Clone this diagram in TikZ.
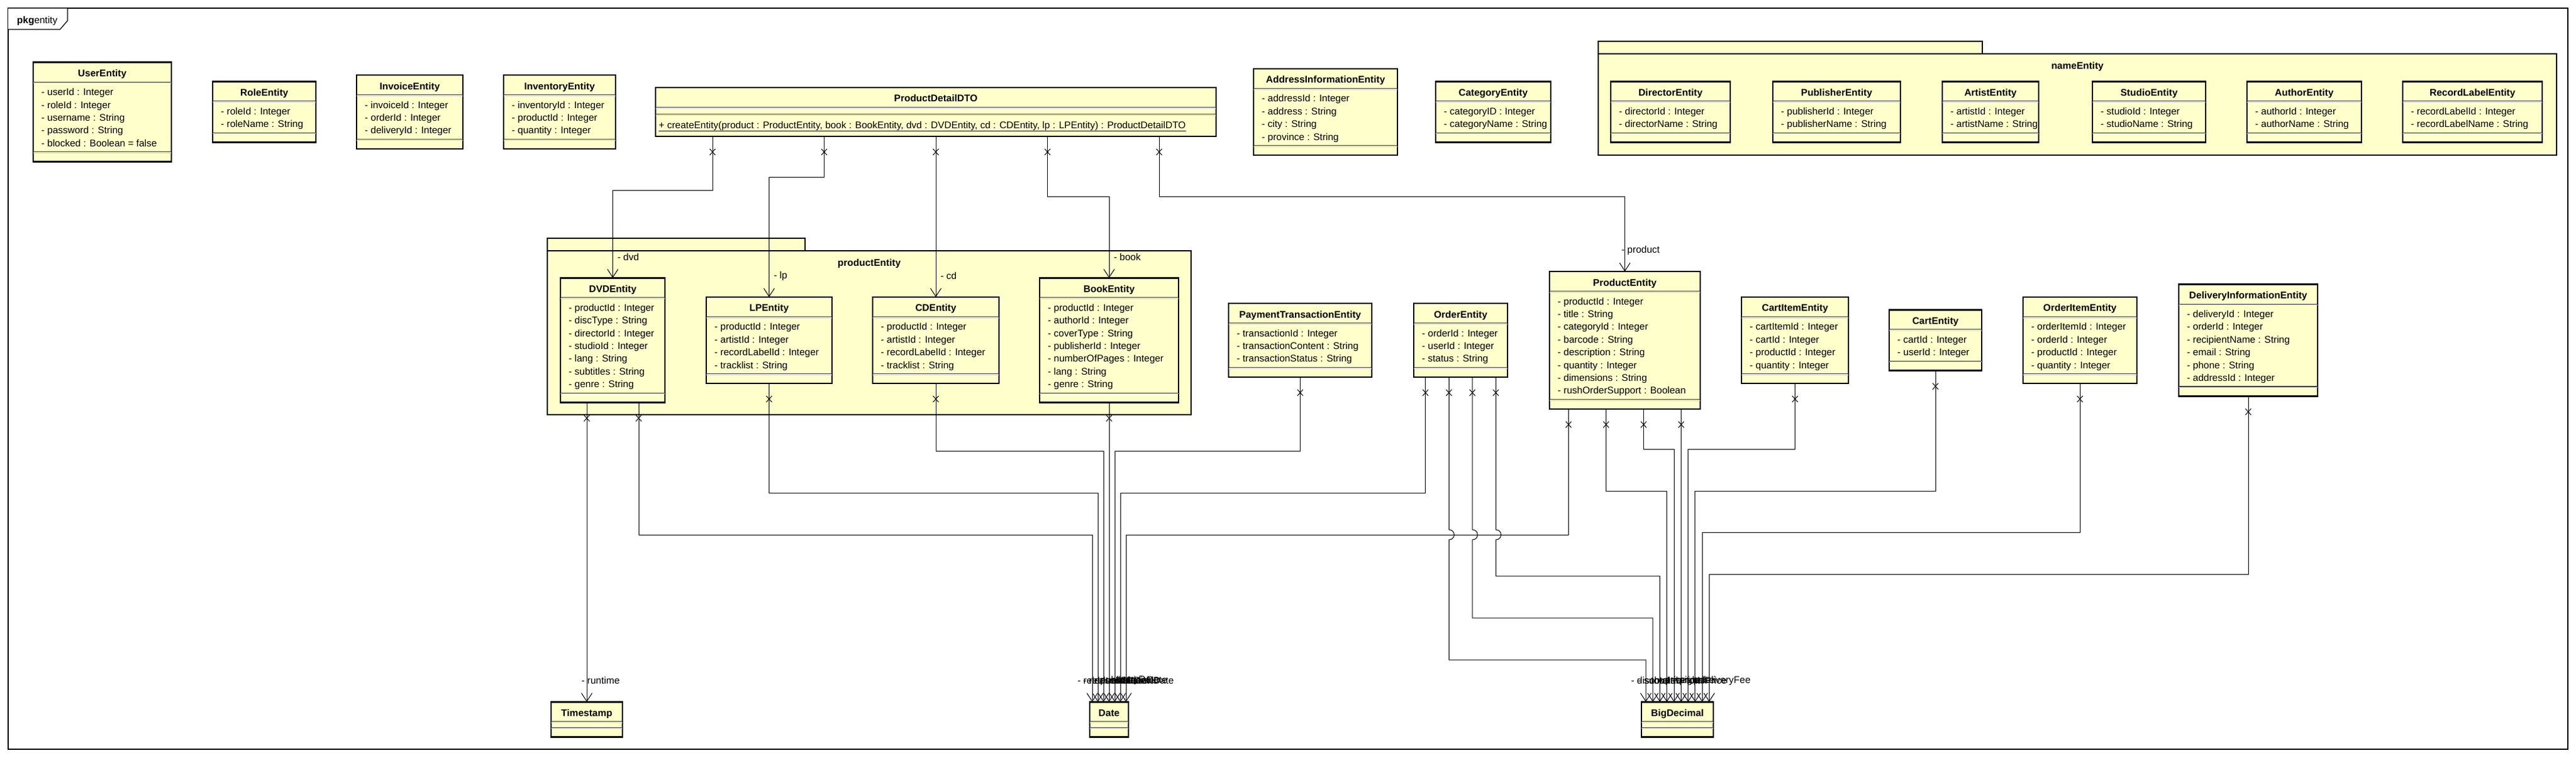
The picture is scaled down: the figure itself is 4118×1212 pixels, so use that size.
\documentclass[tikz,border=0pt]{standalone}
\usepackage{fontspec}
\setmainfont{Liberation Sans}
\usetikzlibrary{arrows.meta,calc,decorations.markings}

\definecolor{clsfill}{RGB}{255,255,204}
\newcommand{\clsfont}{\fontsize{15.5pt}{20.4pt}\selectfont}

% class box: name, left x, centre y, width, number of attributes, title, attributes
\newcommand{\umlclass}[7]{%
  \pgfmathsetmacro{\clsh}{56.5+20.4*#5}%
  \node[clsbox, minimum width=#4pt, minimum height=\clsh pt, anchor=west] (#1) at (#2,#3) {};
  \node[clstitle, anchor=base] (#1-t) at ([yshift=-23pt]#1.north) {#6};
  \draw[clssep] ([yshift=-31.5pt]#1.north west) -- ([yshift=-31.5pt]#1.north east);
  \draw[clsshade] ([yshift=-33.2pt]#1.north west) -- ([yshift=-33.2pt]#1.north east);
  \draw[clssep] ([yshift=15.5pt]#1.south west) -- ([yshift=15.5pt]#1.south east);
  \draw[clsshade] ([yshift=13.8pt]#1.south west) -- ([yshift=13.8pt]#1.south east);
  \foreach \a [count=\i from 0] in {#7}
    \node[clsattr, anchor=base west] (#1-a\i) at ([xshift=13pt, yshift={-53pt-20.4pt*\i}]#1.north west) {\a};
}

\tikzset{
  clsbox/.style={draw, line width=2.6pt, fill=clsfill, inner sep=0pt, outer sep=0pt},
  clstitle/.style={font=\clsfont\bfseries, inner sep=0pt},
  clsattr/.style={font=\clsfont, inner sep=0pt},
  clssep/.style={draw=black!75, line width=1.1pt},
  clsshade/.style={draw=black!18, line width=1pt},
  pkgbox/.style={draw, line width=2.6pt, fill=clsfill, inner sep=0pt, outer sep=0pt, anchor=north west},
  assoc/.style={draw, line width=1pt, -{Straight Barb[length=13pt,width=17pt]},
    decoration={markings, mark=at position 25pt with
      {\draw[line width=1pt, arrows=-] (-5pt,-4.5pt) -- (5pt,4.5pt) (-5pt,4.5pt) -- (5pt,-4.5pt);}},
    postaction={decorate}},
  rolelab/.style={pos=1, anchor=west, inner sep=0pt, font=\clsfont, xshift=7pt, yshift=33.5pt},
  typelab/.style={pos=1, anchor=west, inner sep=0pt, font=\clsfont, xshift=-24pt, yshift=34pt}
}

\begin{document}
\begin{tikzpicture}[x=1pt, y=-1pt]
\useasboundingbox (0,0) rectangle (4118,1212);

% --- frame of package entity ---
\draw[line width=1.3pt] (13,13) rectangle (4105,1198);
\draw[line width=1.3pt, fill=white] (13,13) -- (108,13) -- (108,33) -- (96,47) -- (13,47);
\node[anchor=base west, inner sep=0pt, font=\clsfont] (pkglbl) at (27,38) {\textbf{pkg}entity};

% --- packages ---
\node[pkgbox, minimum width=614pt, minimum height=20pt] (nametab) at (2555,66) {};
\node[pkgbox, minimum width=1532pt, minimum height=162pt] (namepkg) at (2555,86) {};
\node[clstitle, anchor=base] (namelbl) at ([yshift=-25pt]namepkg.north) {nameEntity};

\node[pkgbox, minimum width=412pt, minimum height=20pt] (prodtab) at (875,381) {};
\node[pkgbox, minimum width=1029pt, minimum height=262pt] (prodpkg) at (875,401) {};
\node[clstitle, anchor=base] (prodlbl) at ([yshift=-24pt]prodpkg.north) {productEntity};

% --- top row ---
\umlclass{user}{53}{179}{221}{5}{UserEntity}{- userId : Integer, - roleId : Integer, - username : String, - password : String, - blocked : Boolean = false}
\umlclass{role}{340}{179}{165}{2}{RoleEntity}{- roleId : Integer, - roleName : String}
\umlclass{invoice}{570}{179}{170}{3}{InvoiceEntity}{- invoiceId : Integer, - orderId : Integer, - deliveryId : Integer}
\umlclass{inventory}{805}{179}{179}{3}{InventoryEntity}{- inventoryId : Integer, - productId : Integer, - quantity : Integer}
\umlclass{address}{2004}{179}{230}{4}{AddressInformationEntity}{- addressId : Integer, - address : String, - city : String, - province : String}
\umlclass{category}{2295}{179}{184}{2}{CategoryEntity}{- categoryID : Integer, - categoryName : String}

% --- ProductDetailDTO ---
\node[clsbox, minimum width=896pt, minimum height=78pt, anchor=north west] (dto) at (1048,140) {};
\node[clstitle, anchor=base] (dto-t) at ([yshift=-23pt]dto.north) {ProductDetailDTO};
\draw[clssep] ([yshift=-31.5pt]dto.north west) -- ([yshift=-31.5pt]dto.north east);
\draw[clsshade] ([yshift=-33.2pt]dto.north west) -- ([yshift=-33.2pt]dto.north east);
\draw[clssep] ([yshift=-42.5pt]dto.north west) -- ([yshift=-42.5pt]dto.north east);
\draw[clsshade] ([yshift=-44.2pt]dto.north west) -- ([yshift=-44.2pt]dto.north east);
\node[clsattr, anchor=base west] (dto-op) at ([xshift=5pt, yshift=-65pt]dto.north west)
  {\underline{+ createEntity(product : ProductEntity, book : BookEntity, dvd : DVDEntity, cd : CDEntity, lp : LPEntity) : ProductDetailDTO}};

% --- nameEntity classes ---
\umlclass{director}{2575}{179}{191}{2}{DirectorEntity}{- directorId : Integer, - directorName : String}
\umlclass{publisher}{2834}{179}{204}{2}{PublisherEntity}{- publisherId : Integer, - publisherName : String}
\umlclass{artist}{3105}{179}{154}{2}{ArtistEntity}{- artistId : Integer, - artistName : String}
\umlclass{studio}{3345}{179}{181}{2}{StudioEntity}{- studioId : Integer, - studioName : String}
\umlclass{author}{3592}{179}{183}{2}{AuthorEntity}{- authorId : Integer, - authorName : String}
\umlclass{recordlabel}{3841}{179}{223}{2}{RecordLabelEntity}{- recordLabelId : Integer, - recordLabelName : String}

% --- productEntity classes ---
\umlclass{dvd}{896}{544}{167}{7}{DVDEntity}{- productId : Integer, - discType : String, - directorId : Integer, - studioId : Integer, - lang : String, - subtitles : String, - genre : String}
\umlclass{lp}{1129}{544}{201}{4}{LPEntity}{- productId : Integer, - artistId : Integer, - recordLabelId : Integer, - tracklist : String}
\umlclass{cd}{1395}{544}{202}{4}{CDEntity}{- productId : Integer, - artistId : Integer, - recordLabelId : Integer, - tracklist : String}
\umlclass{book}{1662}{544}{222}{7}{BookEntity}{- productId : Integer, - authorId : Integer, - coverType : String, - publisherId : Integer, - numberOfPages : Integer, - lang : String, - genre : String}

% --- middle row ---
\umlclass{payment}{1964}{544}{229}{3}{PaymentTransactionEntity}{- transactionId : Integer, - transactionContent : String, - transactionStatus : String}
\umlclass{order}{2260}{544}{150}{3}{OrderEntity}{- orderId : Integer, - userId : Integer, - status : String}
\umlclass{product}{2477}{544}{241}{8}{ProductEntity}{- productId : Integer, - title : String, - categoryId : Integer, - barcode : String, - description : String, - quantity : Integer, - dimensions : String, - rushOrderSupport : Boolean}
\umlclass{cartitem}{2784}{544}{171}{4}{CartItemEntity}{- cartItemId : Integer, - cartId : Integer, - productId : Integer, - quantity : Integer}
\umlclass{cart}{3020}{544}{148}{2}{CartEntity}{- cartId : Integer, - userId : Integer}
\umlclass{orderitem}{3234}{544}{182}{4}{OrderItemEntity}{- orderItemId : Integer, - orderId : Integer, - productId : Integer, - quantity : Integer}
\umlclass{delivery}{3483}{544}{222}{6}{DeliveryInformationEntity}{- deliveryId : Integer, - orderId : Integer, - recipientName : String, - email : String, - phone : String, - addressId : Integer}

% --- value types ---
\umlclass{timestamp}{881}{1150.5}{114}{0}{Timestamp}{}
\umlclass{date}{1742}{1150.5}{62}{0}{Date}{}
\umlclass{bigdec}{2624}{1150.5}{115}{0}{BigDecimal}{}

\foreach \k/\dx in {1/-27,2/-18,3/-9,4/0,5/9,6/18,7/27}
  \coordinate (date-in\k) at ([xshift=\dx pt]date.north);
\foreach \k/\dx in {1/-50.5,2/-39.3,3/-28.1,4/-16.9,5/-5.5,6/6,7/17.2,8/28.4,9/39.6,10/50.8}
  \coordinate (bd-in\k) at ([xshift=\dx pt]bigdec.north);
\coordinate (ord-b2) at ([xshift=-18.75pt]order.south);
\coordinate (ord-b3) at ([xshift=18.75pt]order.south);
\coordinate (ord-b4) at ([xshift=56.25pt]order.south);

% --- DTO to products ---
\draw[assoc] ([xshift=-357pt]dto.south) |- (dvd.north |- 0,304) -- (dvd.north) node[rolelab] (lbl-dvd) {- dvd};
\draw[assoc] ([xshift=-178.5pt]dto.south) |- (lp.north |- 0,283) -- (lp.north) node[rolelab] (lbl-lp) {- lp};
\draw[assoc] (dto.south) -- (cd.north) node[rolelab] (lbl-cd) {- cd};
\draw[assoc] ([xshift=178.5pt]dto.south) |- (book.north |- 0,314) -- (book.north) node[rolelab] (lbl-book) {- book};
\draw[assoc] ([xshift=357pt]dto.south) |- (product.north |- 0,314) -- (product.north) node[rolelab, xshift=-13pt] (lbl-product) {- product};

% --- Timestamp and Date ---
\draw[assoc] ([xshift=-41.5pt]dvd.south) -- (timestamp.north) node[typelab, xshift=15pt] (lbl-runtime) {- runtime};
\draw[assoc] ([xshift=41.5pt]dvd.south) |- (date-in1 |- 0,855) -- (date-in1) node[typelab] (lbl-d1) {- releaseDate};
\draw[assoc] (lp.south) |- (date-in2 |- 0,788) -- (date-in2) node[typelab] (lbl-d2) {- releaseDate};
\draw[assoc] (cd.south) |- (date-in3 |- 0,721) -- (date-in3) node[typelab] (lbl-d3) {- releaseDate};
\draw[assoc] (book.south) -- (date-in4) node[typelab] (lbl-d4) {- publicationDate};
\draw[assoc] (payment.south) |- (date-in5 |- 0,721) -- (date-in5) node[typelab] (lbl-d5) {- transactionDate};
\draw[assoc] ([xshift=-56.25pt]order.south) |- (date-in6 |- 0,788) -- (date-in6) node[typelab] (lbl-d6) {- orderDate};
\draw[assoc] ([xshift=-90pt]product.south) |- (date-in7 |- 0,855) -- (date-in7) node[typelab] (lbl-d7) {- entryDate};

% --- BigDecimal (order lines hop over the product line) ---
\draw[assoc] (ord-b2) -- (ord-b2 |- 0,847) .. controls +(11,0) and +(11,0) .. (ord-b2 |- 0,863)
  |- (bd-in1 |- 0,1055) -- (bd-in1) node[typelab] (lbl-b1) {- discount};
\draw[assoc] (ord-b3) -- (ord-b3 |- 0,847) .. controls +(11,0) and +(11,0) .. (ord-b3 |- 0,863)
  |- (bd-in2 |- 0,988) -- (bd-in2) node[typelab] (lbl-b2) {- subtotal};
\draw[assoc] (ord-b4) -- (ord-b4 |- 0,847) .. controls +(11,0) and +(11,0) .. (ord-b4 |- 0,863)
  |- (bd-in3 |- 0,921) -- (bd-in3) node[typelab] (lbl-b3) {- total};
\draw[assoc] ([xshift=-30pt]product.south) |- (bd-in4 |- 0,785) -- (bd-in4) node[typelab] (lbl-b4) {- value};
\draw[assoc] ([xshift=30pt]product.south) |- (bd-in5 |- 0,718) -- (bd-in5) node[typelab] (lbl-b5) {- price};
\draw[assoc] ([xshift=90pt]product.south) -- (bd-in6) node[typelab] (lbl-b6) {- weight};
\draw[assoc] (cartitem.south) |- (bd-in7 |- 0,718) -- (bd-in7) node[typelab] (lbl-b7) {- price};
\draw[assoc] (cart.south) |- (bd-in8 |- 0,785) -- (bd-in8) node[typelab] (lbl-b8) {- totalPrice};
\draw[assoc] (orderitem.south) |- (bd-in9 |- 0,851) -- (bd-in9) node[typelab] (lbl-b9) {- price};
\draw[assoc] (delivery.south) |- (bd-in10 |- 0,918) -- (bd-in10) node[typelab] (lbl-b10) {- deliveryFee};

\end{tikzpicture}
\end{document}
